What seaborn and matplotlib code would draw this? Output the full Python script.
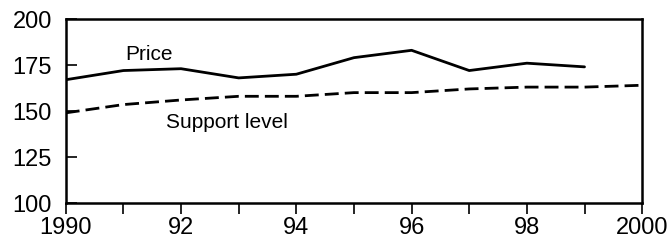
import pandas as pd
import seaborn as sns
import matplotlib.pyplot as plt
from matplotlib.ticker import MultipleLocator, FixedLocator

# values
years = [1990, 1991, 1992, 1993, 1994, 1995, 1996, 1997, 1998, 1999, 2000]
price = [167, 172, 173, 168, 170, 179, 183, 172, 176, 174]
support = [149, 153.5, 156, 158, 158, 160, 160, 162, 163, 163, 164]
x_labels = ["1990", "92", "94", "96", "98", "2000"]

sns.set_style("ticks")
plt.rcParams['font.family'] = ['Liberation Sans', 'DejaVu Sans']
plt.rcParams['text.color'] = 'black'

price_df = pd.DataFrame({"year": years[:len(price)], "value": price})
support_df = pd.DataFrame({"year": years, "value": support})

f = plt.figure(figsize=(6.71, 2.44), dpi=100)
ax = f.add_axes([0.098, 0.168, 0.859, 0.754])

sns.lineplot(x="year", y="value", data=price_df, ax=ax, color="black", lw=2)
sns.lineplot(x="year", y="value", data=support_df, ax=ax, color="black", lw=2,
             dashes=False)
ax.lines[-1].set_dashes((5, 2.2))

ax.text(1991.45, 180.5, "Price", fontsize=15, ha="center", va="center", color="black")
ax.text(1992.8, 144, "Support level", fontsize=15, ha="center", va="center", color="black")

ax.set_xlim(1990, 2000)
ax.set_ylim(100, 200)
ax.xaxis.set_major_locator(FixedLocator(years[::2]))
ax.set_xticklabels(x_labels)
ax.xaxis.set_minor_locator(MultipleLocator(1))
ax.yaxis.set_major_locator(MultipleLocator(25))
ax.set(xlabel="", ylabel="")

for s in ax.spines.values():
    s.set_linewidth(1.8)
    s.set_color("black")
ax.tick_params(axis="x", which="both", direction="out", length=8, width=1.2,
               labelsize=17, pad=2, colors="black")
ax.tick_params(axis="y", which="major", direction="in", length=8, width=1.2,
               labelsize=17, pad=10, colors="black")

f.savefig("out.png", dpi=100)
